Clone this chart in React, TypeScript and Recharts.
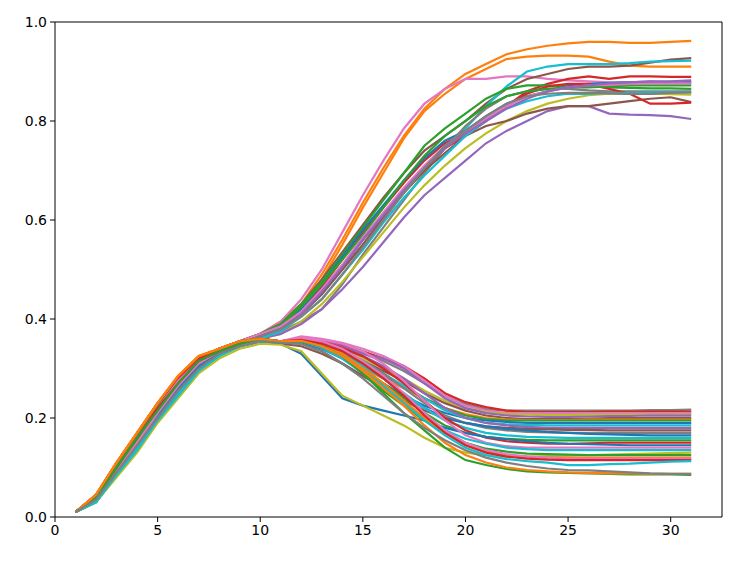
import React from "react";
import { LineChart, Line, XAxis, YAxis, ReferenceLine } from "recharts";

const xs = [1, 2, 3, 4, 5, 6, 7, 8, 9, 10, 11, 12, 13, 14, 15, 16, 17, 18, 19, 20, 21, 22, 23, 24, 25, 26, 27, 28, 29, 30, 31];

const xTicks = [0, 5, 10, 15, 20, 25, 30];
const yTicks = [0, 0.2, 0.4, 0.6, 0.8, 1.0];

// runs that climb towards ~0.85-0.96
const upperRuns: number[][] = [
  [0.01, 0.045, 0.11, 0.17, 0.23, 0.285, 0.325, 0.34, 0.355, 0.37, 0.395, 0.43, 0.49, 0.56, 0.635, 0.705, 0.77, 0.825, 0.865, 0.895, 0.915, 0.935, 0.945, 0.952, 0.957, 0.96, 0.96, 0.958, 0.958, 0.96, 0.962],
  [0.01, 0.04, 0.105, 0.165, 0.225, 0.28, 0.32, 0.34, 0.355, 0.37, 0.39, 0.425, 0.48, 0.55, 0.625, 0.695, 0.765, 0.82, 0.855, 0.885, 0.905, 0.925, 0.93, 0.932, 0.932, 0.93, 0.92, 0.912, 0.91, 0.91, 0.91],
  [0.01, 0.04, 0.1, 0.16, 0.22, 0.275, 0.32, 0.34, 0.355, 0.37, 0.395, 0.44, 0.5, 0.575, 0.65, 0.72, 0.785, 0.835, 0.865, 0.885, 0.885, 0.89, 0.89, 0.885, 0.882, 0.88, 0.878, 0.878, 0.88, 0.878, 0.876],
  [0.01, 0.04, 0.1, 0.16, 0.22, 0.275, 0.32, 0.34, 0.355, 0.37, 0.39, 0.43, 0.48, 0.535, 0.59, 0.645, 0.695, 0.74, 0.77, 0.8, 0.835, 0.865, 0.885, 0.895, 0.905, 0.91, 0.91, 0.912, 0.918, 0.924, 0.927],
  [0.01, 0.035, 0.095, 0.15, 0.21, 0.265, 0.31, 0.335, 0.35, 0.365, 0.38, 0.41, 0.45, 0.5, 0.55, 0.605, 0.655, 0.7, 0.745, 0.785, 0.83, 0.87, 0.9, 0.91, 0.915, 0.915, 0.915, 0.917, 0.92, 0.921, 0.922],
  [0.01, 0.04, 0.1, 0.16, 0.22, 0.27, 0.315, 0.335, 0.35, 0.365, 0.385, 0.42, 0.465, 0.52, 0.575, 0.625, 0.675, 0.72, 0.755, 0.775, 0.8, 0.83, 0.86, 0.875, 0.885, 0.89, 0.885, 0.89, 0.89, 0.889, 0.889],
  [0.01, 0.04, 0.105, 0.165, 0.225, 0.28, 0.32, 0.34, 0.355, 0.37, 0.39, 0.43, 0.475, 0.53, 0.585, 0.64, 0.695, 0.75, 0.785, 0.815, 0.845, 0.865, 0.872, 0.872, 0.87, 0.87, 0.868, 0.867, 0.866, 0.866, 0.865],
  [0.01, 0.04, 0.1, 0.16, 0.22, 0.27, 0.315, 0.335, 0.35, 0.365, 0.385, 0.42, 0.47, 0.525, 0.58, 0.63, 0.68, 0.725, 0.76, 0.78, 0.81, 0.835, 0.85, 0.86, 0.87, 0.875, 0.877, 0.878, 0.878, 0.879, 0.879],
  [0.01, 0.035, 0.09, 0.145, 0.2, 0.255, 0.3, 0.33, 0.345, 0.36, 0.375, 0.395, 0.42, 0.47, 0.53, 0.585, 0.64, 0.695, 0.745, 0.79, 0.825, 0.85, 0.86, 0.865, 0.865, 0.862, 0.86, 0.86, 0.86, 0.86, 0.86],
  [0.01, 0.03, 0.085, 0.14, 0.195, 0.25, 0.295, 0.325, 0.345, 0.36, 0.37, 0.395, 0.43, 0.475, 0.525, 0.575, 0.625, 0.67, 0.71, 0.745, 0.775, 0.8, 0.82, 0.835, 0.845, 0.852, 0.855, 0.855, 0.855, 0.854, 0.853],
  [0.01, 0.035, 0.09, 0.145, 0.2, 0.255, 0.3, 0.33, 0.345, 0.36, 0.37, 0.39, 0.42, 0.46, 0.505, 0.555, 0.605, 0.65, 0.685, 0.72, 0.755, 0.78, 0.8, 0.82, 0.83, 0.83, 0.815, 0.813, 0.812, 0.81, 0.804],
  [0.01, 0.04, 0.1, 0.16, 0.215, 0.27, 0.315, 0.335, 0.35, 0.365, 0.38, 0.41, 0.45, 0.5, 0.55, 0.605, 0.655, 0.7, 0.735, 0.77, 0.79, 0.8, 0.815, 0.825, 0.83, 0.83, 0.835, 0.84, 0.845, 0.848, 0.838],
  [0.01, 0.035, 0.095, 0.15, 0.21, 0.265, 0.31, 0.335, 0.35, 0.365, 0.38, 0.41, 0.455, 0.505, 0.56, 0.61, 0.66, 0.705, 0.745, 0.77, 0.8, 0.83, 0.855, 0.87, 0.875, 0.875, 0.865, 0.855, 0.835, 0.835, 0.837],
  [0.01, 0.04, 0.1, 0.16, 0.22, 0.275, 0.315, 0.335, 0.35, 0.365, 0.385, 0.425, 0.47, 0.52, 0.57, 0.625, 0.68, 0.73, 0.77, 0.8, 0.83, 0.85, 0.86, 0.865, 0.868, 0.868, 0.87, 0.872, 0.872, 0.872, 0.872],
  [0.01, 0.03, 0.085, 0.14, 0.2, 0.255, 0.3, 0.33, 0.345, 0.36, 0.375, 0.405, 0.44, 0.49, 0.54, 0.595, 0.645, 0.69, 0.73, 0.77, 0.8, 0.825, 0.84, 0.85, 0.855, 0.855, 0.857, 0.857, 0.858, 0.858, 0.858],
  [0.01, 0.04, 0.1, 0.16, 0.22, 0.275, 0.32, 0.34, 0.355, 0.37, 0.385, 0.415, 0.46, 0.51, 0.565, 0.615, 0.665, 0.71, 0.75, 0.78, 0.805, 0.83, 0.85, 0.86, 0.868, 0.872, 0.873, 0.875, 0.876, 0.876, 0.876],
  [0.01, 0.035, 0.095, 0.15, 0.21, 0.265, 0.31, 0.335, 0.35, 0.365, 0.38, 0.41, 0.455, 0.505, 0.56, 0.61, 0.66, 0.705, 0.745, 0.775, 0.8, 0.825, 0.845, 0.86, 0.868, 0.872, 0.876, 0.878, 0.88, 0.88, 0.882],
  [0.01, 0.04, 0.1, 0.155, 0.215, 0.27, 0.315, 0.335, 0.35, 0.365, 0.38, 0.405, 0.44, 0.49, 0.545, 0.6, 0.655, 0.705, 0.75, 0.78, 0.81, 0.835, 0.85, 0.855, 0.857, 0.857, 0.856, 0.855, 0.855, 0.857, 0.858],
];
const upperColors = ["#ff7f0e", "#ff7f0e", "#e377c2", "#8c564b", "#17becf", "#d62728", "#2ca02c", "#1f77b4", "#7f7f7f", "#bcbd22", "#9467bd", "#8c564b", "#d62728", "#2ca02c", "#17becf", "#e377c2", "#9467bd", "#7f7f7f"];

// runs that fall back towards ~0.08-0.22
const lowerRuns: number[][] = [
  [0.01, 0.04, 0.1, 0.16, 0.215, 0.27, 0.315, 0.335, 0.35, 0.36, 0.355, 0.36, 0.355, 0.345, 0.33, 0.315, 0.295, 0.27, 0.245, 0.228, 0.218, 0.215, 0.215, 0.215, 0.215, 0.215, 0.215, 0.215, 0.216, 0.216, 0.217],
  [0.01, 0.045, 0.105, 0.165, 0.225, 0.28, 0.32, 0.34, 0.355, 0.36, 0.355, 0.362, 0.358, 0.348, 0.335, 0.32, 0.305, 0.28, 0.25, 0.232, 0.222, 0.215, 0.212, 0.212, 0.212, 0.212, 0.213, 0.213, 0.213, 0.213, 0.213],
  [0.01, 0.04, 0.1, 0.155, 0.215, 0.27, 0.315, 0.335, 0.35, 0.36, 0.355, 0.365, 0.36, 0.352, 0.34, 0.325, 0.305, 0.275, 0.245, 0.225, 0.215, 0.21, 0.21, 0.21, 0.21, 0.21, 0.21, 0.21, 0.21, 0.21, 0.21],
  [0.01, 0.03, 0.085, 0.135, 0.195, 0.245, 0.295, 0.325, 0.345, 0.355, 0.355, 0.358, 0.352, 0.34, 0.32, 0.3, 0.28, 0.255, 0.235, 0.22, 0.212, 0.208, 0.207, 0.206, 0.206, 0.207, 0.207, 0.207, 0.207, 0.207, 0.207],
  [0.01, 0.035, 0.09, 0.145, 0.2, 0.255, 0.3, 0.33, 0.345, 0.355, 0.355, 0.36, 0.355, 0.345, 0.33, 0.32, 0.3, 0.27, 0.24, 0.22, 0.21, 0.205, 0.203, 0.202, 0.202, 0.203, 0.204, 0.204, 0.205, 0.205, 0.205],
  [0.01, 0.04, 0.105, 0.165, 0.225, 0.28, 0.32, 0.34, 0.355, 0.36, 0.355, 0.358, 0.35, 0.335, 0.315, 0.295, 0.275, 0.25, 0.23, 0.215, 0.205, 0.2, 0.198, 0.198, 0.198, 0.199, 0.2, 0.2, 0.2, 0.2, 0.2],
  [0.01, 0.045, 0.11, 0.17, 0.23, 0.285, 0.325, 0.34, 0.355, 0.36, 0.355, 0.356, 0.345, 0.325, 0.3, 0.28, 0.26, 0.24, 0.22, 0.208, 0.2, 0.197, 0.196, 0.196, 0.196, 0.197, 0.197, 0.197, 0.197, 0.197, 0.197],
  [0.01, 0.04, 0.1, 0.16, 0.22, 0.275, 0.315, 0.335, 0.35, 0.36, 0.355, 0.355, 0.345, 0.33, 0.31, 0.285, 0.265, 0.24, 0.22, 0.205, 0.198, 0.195, 0.195, 0.195, 0.195, 0.195, 0.195, 0.195, 0.195, 0.195, 0.195],
  [0.01, 0.04, 0.1, 0.16, 0.215, 0.27, 0.315, 0.335, 0.35, 0.355, 0.352, 0.35, 0.335, 0.31, 0.285, 0.265, 0.245, 0.225, 0.21, 0.2, 0.195, 0.192, 0.19, 0.19, 0.19, 0.19, 0.19, 0.19, 0.19, 0.19, 0.19],
  [0.01, 0.03, 0.085, 0.14, 0.2, 0.25, 0.3, 0.33, 0.345, 0.355, 0.355, 0.357, 0.348, 0.335, 0.315, 0.29, 0.265, 0.24, 0.215, 0.2, 0.19, 0.187, 0.186, 0.185, 0.185, 0.185, 0.185, 0.185, 0.185, 0.185, 0.185],
  [0.01, 0.035, 0.095, 0.15, 0.205, 0.26, 0.305, 0.33, 0.345, 0.355, 0.355, 0.36, 0.352, 0.34, 0.325, 0.305, 0.28, 0.25, 0.22, 0.2, 0.19, 0.185, 0.182, 0.18, 0.18, 0.18, 0.18, 0.18, 0.18, 0.18, 0.18],
  [0.01, 0.04, 0.1, 0.16, 0.22, 0.275, 0.315, 0.335, 0.35, 0.355, 0.35, 0.345, 0.33, 0.31, 0.285, 0.26, 0.235, 0.215, 0.2, 0.19, 0.183, 0.18, 0.178, 0.177, 0.176, 0.176, 0.175, 0.175, 0.175, 0.175, 0.175],
  [0.01, 0.035, 0.09, 0.145, 0.2, 0.255, 0.3, 0.33, 0.345, 0.355, 0.355, 0.358, 0.35, 0.335, 0.315, 0.29, 0.26, 0.23, 0.205, 0.19, 0.18, 0.175, 0.172, 0.171, 0.17, 0.17, 0.17, 0.17, 0.17, 0.17, 0.17],
  [0.01, 0.04, 0.1, 0.16, 0.22, 0.27, 0.315, 0.335, 0.35, 0.355, 0.352, 0.352, 0.34, 0.32, 0.295, 0.27, 0.245, 0.22, 0.2, 0.19, 0.183, 0.178, 0.175, 0.172, 0.17, 0.168, 0.167, 0.166, 0.165, 0.165, 0.165],
  [0.01, 0.03, 0.085, 0.135, 0.195, 0.245, 0.295, 0.325, 0.345, 0.355, 0.355, 0.355, 0.345, 0.33, 0.305, 0.28, 0.25, 0.22, 0.195, 0.18, 0.17, 0.165, 0.162, 0.161, 0.16, 0.16, 0.16, 0.16, 0.16, 0.16, 0.16],
  [0.01, 0.04, 0.105, 0.165, 0.225, 0.28, 0.32, 0.34, 0.355, 0.36, 0.355, 0.356, 0.345, 0.325, 0.3, 0.27, 0.24, 0.21, 0.185, 0.17, 0.162, 0.158, 0.156, 0.155, 0.155, 0.155, 0.155, 0.155, 0.155, 0.155, 0.155],
  [0.01, 0.045, 0.11, 0.17, 0.23, 0.28, 0.32, 0.34, 0.355, 0.36, 0.355, 0.36, 0.355, 0.342, 0.325, 0.3, 0.27, 0.235, 0.2, 0.175, 0.16, 0.153, 0.15, 0.148, 0.148, 0.149, 0.15, 0.15, 0.15, 0.15, 0.15],
  [0.01, 0.035, 0.095, 0.15, 0.205, 0.26, 0.305, 0.33, 0.345, 0.355, 0.35, 0.33, 0.285, 0.24, 0.225, 0.215, 0.205, 0.195, 0.18, 0.17, 0.162, 0.157, 0.153, 0.15, 0.148, 0.147, 0.146, 0.145, 0.145, 0.145, 0.145],
  [0.01, 0.04, 0.1, 0.16, 0.22, 0.275, 0.315, 0.335, 0.35, 0.36, 0.355, 0.362, 0.358, 0.35, 0.335, 0.31, 0.275, 0.235, 0.195, 0.165, 0.15, 0.143, 0.14, 0.14, 0.14, 0.14, 0.14, 0.14, 0.14, 0.14, 0.14],
  [0.01, 0.03, 0.085, 0.14, 0.195, 0.25, 0.295, 0.325, 0.345, 0.355, 0.355, 0.355, 0.342, 0.32, 0.29, 0.26, 0.23, 0.2, 0.175, 0.158, 0.148, 0.14, 0.137, 0.135, 0.135, 0.135, 0.135, 0.135, 0.135, 0.135, 0.135],
  [0.01, 0.03, 0.08, 0.13, 0.19, 0.24, 0.29, 0.32, 0.34, 0.35, 0.348, 0.335, 0.29, 0.245, 0.225, 0.205, 0.185, 0.16, 0.14, 0.13, 0.125, 0.122, 0.122, 0.123, 0.124, 0.125, 0.126, 0.127, 0.128, 0.129, 0.13],
  [0.01, 0.04, 0.1, 0.155, 0.215, 0.27, 0.315, 0.335, 0.35, 0.36, 0.355, 0.355, 0.345, 0.325, 0.29, 0.255, 0.225, 0.195, 0.17, 0.15, 0.138, 0.132, 0.128, 0.127, 0.126, 0.125, 0.125, 0.125, 0.125, 0.125, 0.125],
  [0.01, 0.045, 0.11, 0.17, 0.23, 0.285, 0.325, 0.34, 0.355, 0.36, 0.355, 0.358, 0.35, 0.33, 0.3, 0.27, 0.235, 0.2, 0.17, 0.145, 0.132, 0.125, 0.122, 0.12, 0.12, 0.12, 0.12, 0.12, 0.12, 0.12, 0.12],
  [0.01, 0.035, 0.095, 0.15, 0.21, 0.265, 0.31, 0.335, 0.35, 0.36, 0.355, 0.36, 0.355, 0.34, 0.315, 0.285, 0.25, 0.21, 0.175, 0.15, 0.135, 0.127, 0.122, 0.12, 0.118, 0.118, 0.118, 0.118, 0.118, 0.118, 0.118],
  [0.01, 0.04, 0.1, 0.16, 0.22, 0.27, 0.315, 0.335, 0.35, 0.36, 0.355, 0.358, 0.35, 0.335, 0.31, 0.28, 0.245, 0.205, 0.17, 0.145, 0.13, 0.122, 0.118, 0.116, 0.115, 0.115, 0.115, 0.115, 0.115, 0.115, 0.115],
  [0.01, 0.03, 0.085, 0.135, 0.195, 0.245, 0.295, 0.325, 0.345, 0.355, 0.355, 0.355, 0.345, 0.325, 0.295, 0.265, 0.23, 0.195, 0.165, 0.14, 0.125, 0.117, 0.113, 0.11, 0.105, 0.105, 0.107, 0.108, 0.11, 0.112, 0.113],
  [0.01, 0.04, 0.1, 0.16, 0.215, 0.27, 0.315, 0.335, 0.35, 0.36, 0.355, 0.355, 0.345, 0.325, 0.29, 0.25, 0.21, 0.175, 0.14, 0.115, 0.105, 0.097, 0.092, 0.09, 0.089, 0.088, 0.087, 0.086, 0.086, 0.086, 0.085],
  [0.01, 0.045, 0.11, 0.17, 0.23, 0.285, 0.325, 0.34, 0.355, 0.36, 0.355, 0.356, 0.345, 0.325, 0.295, 0.26, 0.225, 0.185, 0.15, 0.125, 0.11, 0.1, 0.095, 0.092, 0.09, 0.089, 0.088, 0.088, 0.087, 0.087, 0.087],
  [0.01, 0.035, 0.09, 0.145, 0.2, 0.255, 0.3, 0.33, 0.345, 0.355, 0.352, 0.35, 0.335, 0.31, 0.28, 0.245, 0.21, 0.18, 0.155, 0.135, 0.12, 0.11, 0.103, 0.098, 0.095, 0.094, 0.092, 0.09, 0.088, 0.087, 0.087],
];
const lowerColors = ["#7f7f7f", "#d62728", "#e377c2", "#bcbd22", "#9467bd", "#8c564b", "#ff7f0e", "#2ca02c", "#1f77b4", "#17becf", "#9467bd", "#8c564b", "#7f7f7f", "#1f77b4", "#17becf", "#2ca02c", "#d62728", "#1f77b4", "#e377c2", "#17becf", "#bcbd22", "#2ca02c", "#ff7f0e", "#e377c2", "#d62728", "#17becf", "#2ca02c", "#ff7f0e", "#7f7f7f"];

const runs = [...upperRuns, ...lowerRuns];
const colors = [...upperColors, ...lowerColors];

const rows = xs.map((x, i) => {
  const row: Record<string, number> = { x };
  runs.forEach((r, k) => {
    row["r" + k] = r[i];
  });
  return row;
});

const font = "DejaVu Sans, sans-serif";

export default function App() {
  return (
    <div style={{ position: "absolute", left: 0, top: 0, background: "#fff" }}>
      <LineChart width={750} height={563} data={rows} margin={{ top: 22, right: 28, bottom: 0, left: 0 }}>
        <XAxis
          type="number"
          dataKey="x"
          domain={[0, 32.5]}
          ticks={xTicks}
          height={46}
          tickSize={5}
          tickMargin={3}
          stroke="#000"
          tick={{ fill: "#000", fontSize: 14, fontFamily: font }}
          allowDataOverflow
        />
        <YAxis
          type="number"
          domain={[0, 1]}
          ticks={yTicks}
          width={55}
          tickSize={5}
          tickMargin={3}
          stroke="#000"
          tick={{ fill: "#000", fontSize: 14, fontFamily: font }}
          tickFormatter={(v: number) => v.toFixed(1)}
        />
        <ReferenceLine y={1} stroke="#000" />
        <ReferenceLine x={32.5} stroke="#000" />
        {runs.map((_, k) => (
          <Line
            key={k}
            dataKey={"r" + k}
            stroke={colors[k]}
            strokeWidth={2.2}
            dot={false}
            type="linear"
            isAnimationActive={false}
          />
        ))}
      </LineChart>
    </div>
  );
}
